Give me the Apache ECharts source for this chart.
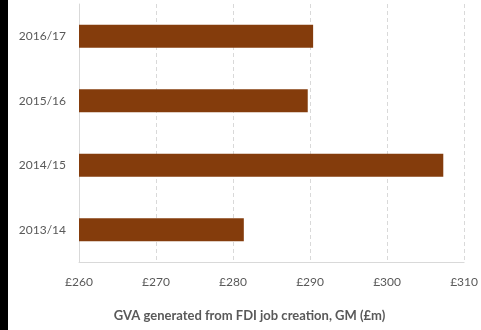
<!DOCTYPE html>
<html>
<head>
<meta charset="utf-8">
<script src="https://cdn.jsdelivr.net/npm/echarts@6/dist/echarts.min.js"></script>
<style>
  html, body { margin: 0; padding: 0; background: #fff; }
  #wrap { position: relative; width: 481px; height: 330px; }
  #chart { width: 481px; height: 330px; }
  #edge { position: absolute; left: 0; top: 0; width: 8px; height: 330px; background: #000; }
</style>
</head>
<body>
<div id="wrap">
  <div id="chart"></div>
  <div id="edge"></div>
</div>
<script>
// GVA from FDI job creation, Greater Manchester (£m)
const years = ['2013/14', '2014/15', '2015/16', '2016/17'];
const gva = [281.4, 307.3, 289.7, 290.4];
const xTicks = [260, 270, 280, 290, 300, 310];
const axisTitle = 'GVA generated from FDI job creation, GM (£m)';

const chart = echarts.init(document.getElementById('chart'), null, { renderer: 'canvas' });
const font = 'Lato, "Open Sans", sans-serif';

chart.setOption({
  animation: false,
  grid: { left: 79, right: 13, top: 4, bottom: 68 },
  xAxis: {
    type: 'value',
    min: xTicks[0],
    max: xTicks[xTicks.length - 1],
    interval: 10,
    axisLine: { show: true, lineStyle: { color: '#d9d9d9', width: 1 } },
    axisTick: { show: false },
    axisLabel: {
      color: '#595959', fontFamily: font, fontSize: 12, margin: 14,
      formatter: v => '£' + v
    },
    splitLine: { show: true, lineStyle: { color: '#d9d9d9', type: [4, 3], width: 1 } },
    name: axisTitle,
    nameLocation: 'middle',
    nameGap: 47,
    nameTextStyle: {
      color: '#595959', fontFamily: font, fontSize: 13, fontWeight: 'bold',
      padding: [0, 44, 0, 0]
    }
  },
  yAxis: {
    type: 'category',
    data: years,
    axisLine: { show: true, lineStyle: { color: '#d9d9d9', width: 1 } },
    axisTick: { show: false },
    axisLabel: { color: '#595959', fontFamily: font, fontSize: 12, margin: 13 }
  },
  series: [{
    type: 'bar',
    data: gva,
    barWidth: 23,
    itemStyle: { color: '#843c0c' }
  }]
});
</script>
</body>
</html>
